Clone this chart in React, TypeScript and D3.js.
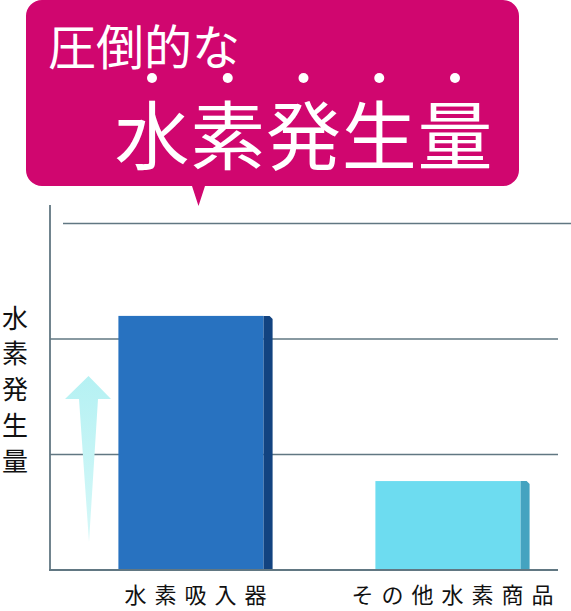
import * as d3 from 'd3';

// chart data
const categories = ['水素吸入器', 'その他水素商品'];
const values = [2.2, 0.77];
const frontColors = ['#2872c0', '#6ddcf0'];
const sideColors = ['#124380', '#45a3c0'];
const gridTicks = [1, 2, 3];
const axisTitle = ['水', '素', '発', '生', '量'];
const headline = '圧倒的な';
const emphasis = ['水', '素', '発', '生', '量'];

const W = 571;
const H = 611;
const FONT = '"Noto Sans CJK JP", "Noto Sans CJK SC", sans-serif';
const GRID = '#617782';

export default function App() {
  const x = d3.scaleBand<string>()
    .domain(categories)
    .range([67, 581])
    .paddingInner(0.4)
    .paddingOuter(0.2);

  const y = d3.scaleLinear()
    .domain([0, 3])
    .range([570, 223.5]);

  const bw = x.bandwidth();
  const side = 9;

  // bubble
  const bx0 = 26, bx1 = 519, by0 = 0, by1 = 186, r = 16;
  const bubble = d3.path();
  bubble.moveTo(bx0 + r, by0);
  bubble.lineTo(bx1 - r, by0);
  bubble.arcTo(bx1, by0, bx1, by0 + r, r);
  bubble.lineTo(bx1, by1 - r);
  bubble.arcTo(bx1, by1, bx1 - r, by1, r);
  bubble.lineTo(205, by1);
  bubble.lineTo(198.5, 206);
  bubble.lineTo(192, by1);
  bubble.lineTo(bx0 + r, by1);
  bubble.arcTo(bx0, by1, bx0, by1 - r, r);
  bubble.lineTo(bx0, by0 + r);
  bubble.arcTo(bx0, by0, bx0 + r, by0, r);
  bubble.closePath();

  const emphX = d3.scaleLinear().domain([0, emphasis.length - 1]).range([152, 455]);
  const titleY = d3.scaleLinear().domain([0, axisTitle.length - 1]).range([316, 459]);

  return (
    <div style={{ position: 'fixed', left: 0, top: 0, width: W, height: H, background: '#fff' }}>
      <svg width={W} height={H} style={{ display: 'block' }}>
        <defs>
          <linearGradient id="arrowGrad" x1="0" y1="0" x2="0" y2="1">
            <stop offset="0%" stopColor="#b5f1f3" />
            <stop offset="100%" stopColor="#d6f8f8" />
          </linearGradient>
        </defs>

        {/* speech bubble */}
        <path d={bubble.toString()} fill="#d0066f" />
        <text x={48} y={44} fill="#fff" fontFamily={FONT} fontSize={48}
          dominantBaseline="central" letterSpacing={0}>{headline}</text>
        {emphasis.map((c, i) => (
          <g key={i}>
            <circle cx={emphX(i)} cy={78} r={5} fill="#fff" />
            <text x={emphX(i)} y={131} fill="#fff" fontFamily={FONT} fontSize={75}
              textAnchor="middle" dominantBaseline="central">{c}</text>
          </g>
        ))}

        {/* grid */}
        {gridTicks.map((t) => (
          <line key={t} x1={t === 3 ? 63 : 50} x2={t === 3 ? 571 : 558}
            y1={y(t)} y2={y(t)} stroke={GRID} strokeWidth={1.6} />
        ))}

        {/* arrow */}
        <path d="M88.5,376 L111,399 L98,399 L89,542 L79,399 L65,399 Z" fill="url(#arrowGrad)" />

        {/* bars */}
        {categories.map((c, i) => {
          const x0 = x(c) as number;
          const top = y(values[i]);
          const bottom = y(0);
          return (
            <g key={c}>
              <rect x={x0} y={top} width={bw - side} height={bottom - top} fill={frontColors[i]} />
              <path
                d={`M${x0 + bw - side},${top} L${x0 + bw - 3},${top} L${x0 + bw},${top + 3} L${x0 + bw},${bottom} L${x0 + bw - side},${bottom} Z`}
                fill={sideColors[i]} />
              <text x={x0 + bw / 2 + 4} y={593} fill="#111" fontFamily={FONT} fontSize={22}
                textAnchor="middle" dominantBaseline="central" letterSpacing={8}>{c}</text>
            </g>
          );
        })}

        {/* axes */}
        <line x1={50} x2={50} y1={205} y2={571} stroke={GRID} strokeWidth={1.8} />
        <line x1={49} x2={558} y1={570} y2={570} stroke={GRID} strokeWidth={1.8} />

        {/* axis title */}
        {axisTitle.map((c, i) => (
          <text key={i} x={15} y={titleY(i)} fill="#111" fontFamily={FONT} fontSize={26}
            textAnchor="middle" dominantBaseline="central">{c}</text>
        ))}
      </svg>
    </div>
  );
}
